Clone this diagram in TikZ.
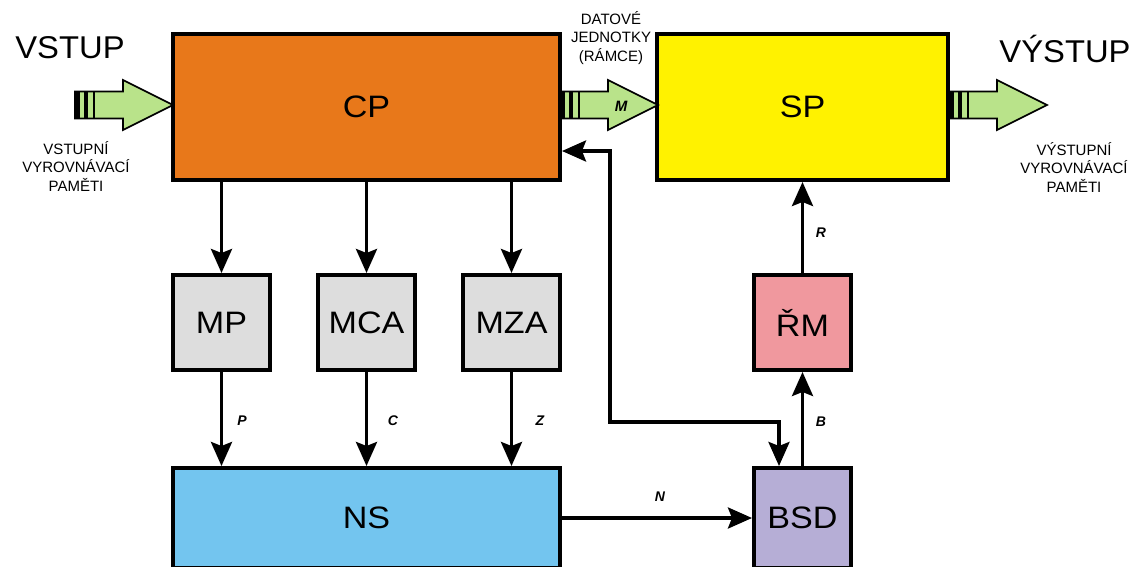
\documentclass[tikz,border=0pt]{standalone}
\usepackage{fontspec}
\setmainfont{Liberation Sans}
\newfontfamily\boxfont[FakeStretch=1.1]{Liberation Sans}
\newfontfamily\bigfont[FakeStretch=1.04]{Liberation Sans}
\usetikzlibrary{arrows.meta}
\definecolor{cporange}{HTML}{E8781A}
\definecolor{spyellow}{HTML}{FFF200}
\definecolor{mgray}{HTML}{DDDDDD}
\definecolor{rmpink}{HTML}{F0989E}
\definecolor{nsblue}{HTML}{73C5EF}
\definecolor{bsdpurple}{HTML}{B6AED6}
\definecolor{fatgreen}{HTML}{B9E38A}
\tikzset{
  fatarrow/.pic={
    \fill[fatgreen] (0,-13.5) -- (48,-13.5) -- (48,-25) -- (98,0) -- (48,25) -- (48,13.5) -- (0,13.5) -- cycle;
    \fill[black] (0,-13.5) rectangle (5,13.5);
    \fill[black] (8.5,-13.5) rectangle (12.5,13.5);
    \fill[black] (17.5,-13.5) rectangle (19.5,13.5);
    \draw[line width=1.6pt, line join=miter] (0,-13.5) -- (48,-13.5) -- (48,-25) -- (98,0) -- (48,25) -- (48,13.5) -- (0,13.5) -- cycle;
  }
}
\begin{document}
\begin{tikzpicture}[x=1pt,y=-1pt,
  box/.style={draw=black, line width=4pt, font=\boxfont\fontsize{31}{36}\selectfont, inner sep=0pt, minimum width=97pt, minimum height=95pt},
  conn/.style={line width=3.5pt, -{Stealth[length=24pt,width=21pt,inset=4pt]}},
  conntwo/.style={line width=3.5pt, line join=miter, {Stealth[length=24pt,width=21pt,inset=4pt]}-{Stealth[length=24pt,width=21pt,inset=4pt]}},
  lab/.style={font=\fontsize{14}{16}\selectfont\bfseries\itshape},
  captext/.style={font=\fontsize{15}{18.5}\selectfont, align=center, inner sep=0pt},
  bigtext/.style={font=\bigfont\fontsize{31.5}{36}\selectfont, anchor=base, inner sep=0pt}]
\useasboundingbox (0,0) rectangle (1136,566);
\clip (0,0) rectangle (1136,566);

% boxes
\node[box, fill=cporange, minimum width=387pt, minimum height=146pt] (CP) at (366.5,107) {CP};
\node[box, fill=spyellow, minimum width=291pt, minimum height=146pt] (SP) at (802.5,107) {SP};
\node[box, fill=mgray] (MP) at (221.5,322.5) {MP};
\node[box, fill=mgray] (MCA) at (366.5,322.5) {MCA};
\node[box, fill=mgray] (MZA) at (511.5,322.5) {MZA};
\node[box, fill=rmpink] (RM) at (802.5,322.5) {ŘM};
\node[box, fill=nsblue, minimum width=387pt, minimum height=100pt] (NS) at (366.5,518) {NS};
\node[box, fill=bsdpurple, minimum height=100pt] (BSD) at (802.5,518) {BSD};

% connectors
\draw[conn] (MP.north |- CP.south) -- (MP.north);
\draw[conn] (MCA.north |- CP.south) -- (MCA.north);
\draw[conn] (MZA.north |- CP.south) -- (MZA.north);
\draw[conn] (MP.south) -- (MP.south |- NS.north);
\draw[conn] (MCA.south) -- (MCA.south |- NS.north);
\draw[conn] (MZA.south) -- (MZA.south |- NS.north);
\draw[conn] (NS.east) -- (BSD.west);
\draw[conn] (BSD.north) -- (RM.south);
\draw[conn] (RM.north) -- (SP.south);
\coordinate (fbtop) at (610,151);
\coordinate (fbbot) at (610,422);
\coordinate (fbx) at (779,0);
\draw[conntwo] (CP.east |- fbtop) -- (fbtop) -- (fbbot) -| (fbx |- BSD.north);

% connector labels
\node[lab] (lP) at (242,421) {P};
\node[lab] (lC) at (393,421) {C};
\node[lab] (lZ) at (540,421) {Z};
\node[lab] (lN) at (660,497) {N};
\node[lab] (lB) at (821,422) {B};
\node[lab] (lR) at (821,233) {R};

% big arrows
\pic at (75,105) {fatarrow};
\pic at (560,105) {fatarrow};
\pic at (949,105) {fatarrow};
\node[lab, font=\fontsize{15}{17}\selectfont\bfseries\itshape] (lM) at (621,106) {M};

% texts
\node[bigtext] (vin) at (70,58) {VSTUP};
\node[bigtext] (vout) at (1065,62) {VÝSTUP};
\node[captext] (incap) at (76,166) {VSTUPNÍ\\VYROVNÁVACÍ\\PAMĚTI};
\node[captext] (outcap) at (1074,167) {VÝSTUPNÍ\\VYROVNÁVACÍ\\PAMĚTI};
\node[captext] (du) at (611,38) {DATOVÉ\\JEDNOTKY\\(RÁMCE)};
\end{tikzpicture}
\end{document}
